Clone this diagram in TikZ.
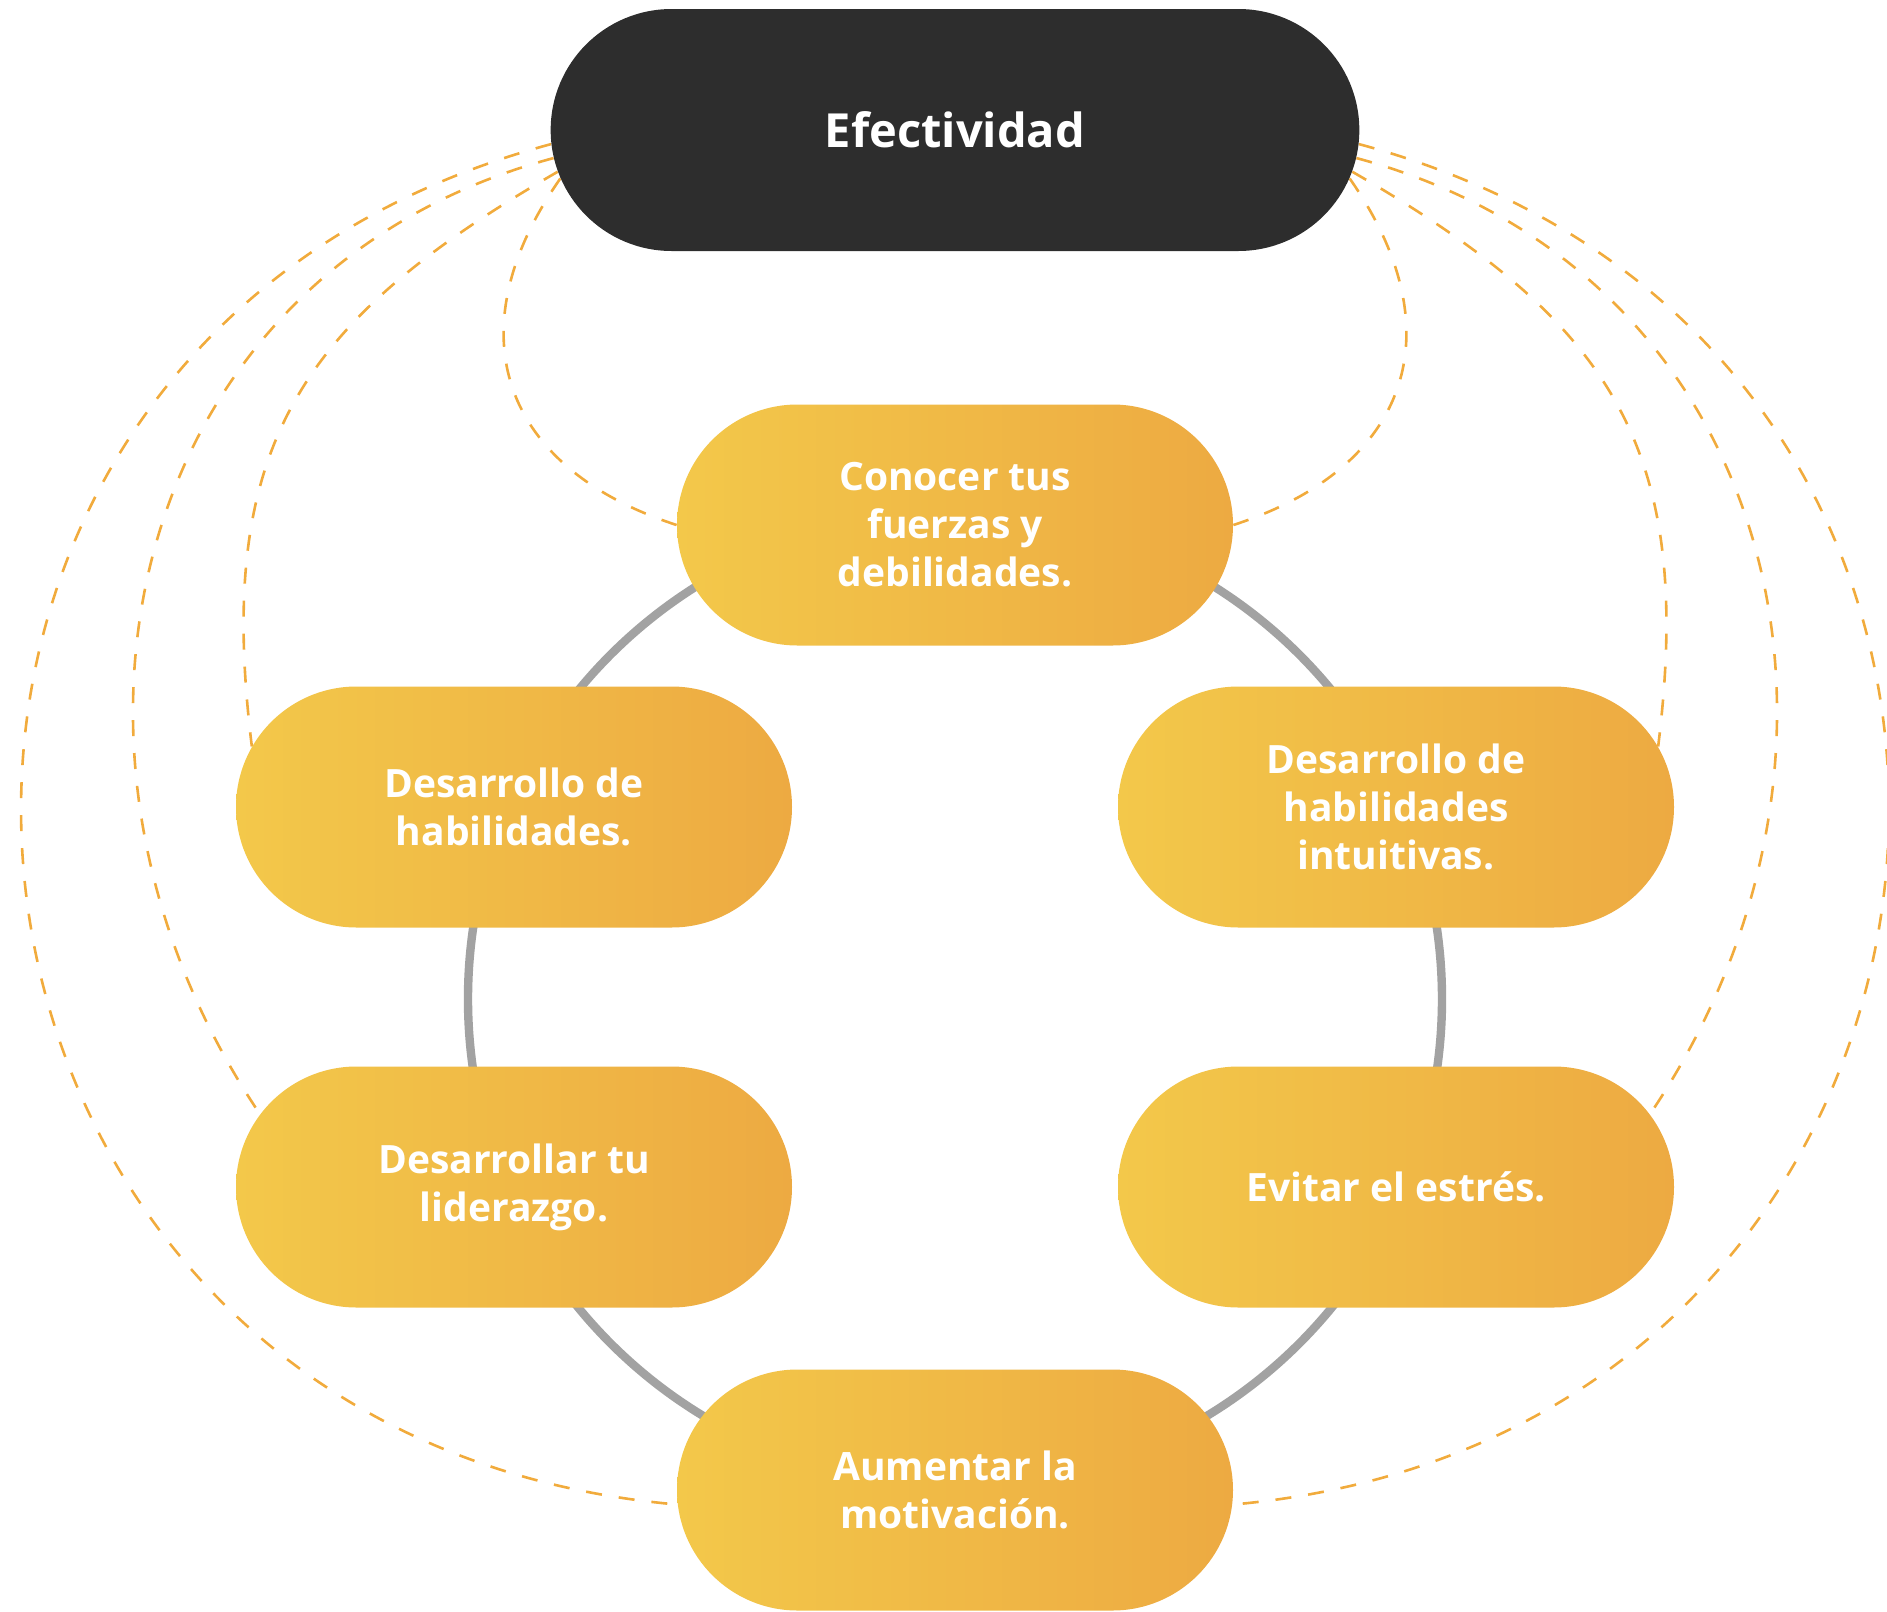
\documentclass[tikz,border=0pt]{standalone}
\usepackage{fontspec}
\setmainfont{Open Sans}
\usetikzlibrary{shapes.misc,backgrounds}
\definecolor{negro}{HTML}{2D2D2D}
\definecolor{amarillo}{HTML}{F3C84A}
\definecolor{naranja}{HTML}{EDAA42}
\definecolor{trazo}{HTML}{F1AB3C}
\definecolor{gris}{HTML}{A2A2A2}
\begin{document}
\begin{tikzpicture}[x=0.5pt,y=0.5pt,line join=round,line cap=round,
	pill/.style={rounded rectangle,minimum width=278pt,minimum height=120.5pt,inner sep=0pt,
		left color=amarillo,right color=naranja,text=white,align=center,
		font=\bfseries\fontsize{19.5}{24}\selectfont},
	linea/.style={draw=trazo,line width=1.3pt,line cap=butt,dash pattern=on 8pt off 8.5pt}]
	\useasboundingbox (0,0) rectangle (1887,-1612);
	\path
	(955,-130) coordinate (e)
	(955,-999) coordinate (O)
	(955,-525) coordinate (c)
	(514,-807) coordinate (h)
	(1396,-807) coordinate (i)
	(514,-1187) coordinate (l)
	(1396,-1187) coordinate (s)
	(955,-1490) coordinate (m)
	;
	\node[rounded rectangle,minimum width=411pt,minimum height=121pt,fill=negro,text=white,
		font=\bfseries\fontsize{23.5}{28}\selectfont] (E) at (e) {Efectividad};
	\foreach \p/\n/\t in {c/C/{Conocer tus\\fuerzas y\\debilidades.},
		h/H/{Desarrollo de\\habilidades.},
		i/I/{Desarrollo de\\habilidades\\intuitivas.},
		l/L/{Desarrollar tu\\liderazgo.},
		s/S/{Evitar el estrés.},
		m/M/{Aumentar la\\motivación.}}
	\node[pill] (\n) at (\p) {\t};
	\begin{scope}[on background layer]
		\draw[gris,line width=4.2pt] (O) circle (487);
		\foreach \a/\o/\i/\k/\b in {187/235/162/1.3/C.west, 186/210/97/1.18/H.167,
			184/195/124/1.12/L.164, 182/195/175/1.5/M.183,
			353/-55/18/1.3/C.east, 354/-30/83/1.18/I.13,
			356/-15/56/1.12/S.16, 358/-15/5/1.5/M.357}
		\draw[linea] (E.\a) to[out=\o,in=\i,looseness=\k] (\b);
	\end{scope}
\end{tikzpicture}
\end{document}
